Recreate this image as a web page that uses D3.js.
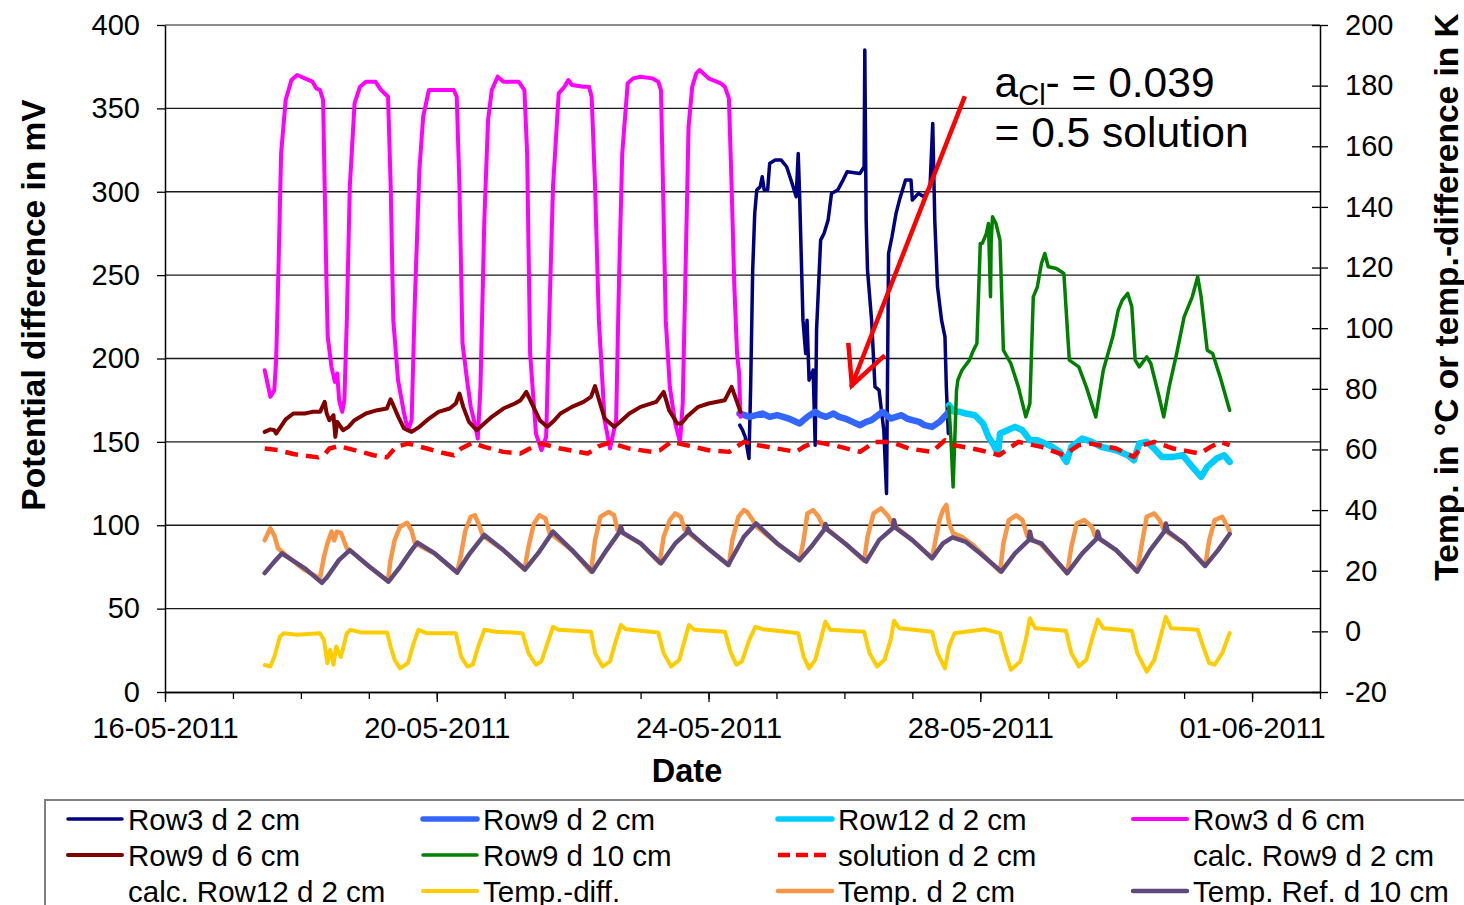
<!DOCTYPE html>
<html>
<head>
<meta charset="utf-8">
<script src="https://cdn.jsdelivr.net/npm/d3@7"></script>
<style>
  html, body { margin: 0; padding: 0; background: #fff; overflow: hidden; }
  svg { display: block; font-family: "Liberation Sans", Arial, sans-serif; }
</style>
</head>
<body>
<svg id="chart" width="1464" height="905"></svg>
<script>
// Time is stored as day offsets from 16-05-2011 00:00
const startDate = new Date(2011, 4, 16);
const endDate = new Date(2011, 5, 2);

// Potential differences in mV (left axis): [day offset, value]
const row3d2 = [[8.46,160],[8.50,157],[8.54,153],[8.595,140],[8.62,183],[8.65,253],[8.68,287],[8.71,301],[8.76,303],[8.79,309],[8.82,301],[8.87,301],[8.90,317],[8.98,319],[9.07,319],[9.15,315],[9.23,305],[9.29,297],[9.32,323],[9.34,299],[9.39,223],[9.43,203],[9.45,223],[9.48,187],[9.54,193],[9.57,148],[9.59,217],[9.65,271],[9.70,275],[9.76,283],[9.81,299],[9.90,301],[9.98,307],[10.04,312],[10.23,311],[10.29,315],[10.30,385],[10.32,283],[10.34,253],[10.40,223],[10.45,183],[10.51,181],[10.55,167],[10.58,157],[10.62,119],[10.65,263],[10.70,273],[10.76,287],[10.81,295],[10.90,307],[10.98,307],[11.00,295],[11.09,299],[11.17,297],[11.26,303],[11.30,341],[11.33,283],[11.37,243],[11.43,223],[11.48,213],[11.50,183],[11.53,155]];

const row9d2 = [[8.456,167],[8.53,166],[8.60,165],[8.70,166],[8.79,167],[8.90,165],[9.01,166],[9.10,165],[9.18,164],[9.34,161],[9.455,165],[9.57,168],[9.65,166],[9.73,165],[9.84,167],[9.92,165],[10.01,164],[10.12,162],[10.23,160],[10.32,162],[10.40,163],[10.56,168],[10.68,164],[10.76,165],[10.84,166],[10.92,164],[11.00,163],[11.10,162],[11.18,160],[11.29,159],[11.40,162],[11.54,168]];

const row12d2 = [[11.54,172],[11.62,168],[11.70,168],[11.79,167],[11.92,166],[12.04,161],[12.12,153],[12.20,148],[12.26,143],[12.29,155],[12.40,157],[12.51,159],[12.62,157],[12.73,151],[12.84,151],[12.95,149],[13.06,147],[13.17,144],[13.27,138],[13.34,147],[13.50,152],[13.64,150],[13.78,147],[14.00,145],[14.17,142],[14.26,139],[14.34,149],[14.45,150],[14.56,146],[14.67,141],[14.84,141],[14.98,142],[15.12,135],[15.25,129],[15.34,135],[15.48,140],[15.59,142],[15.67,138]];

const row3d6 = [[1.467,193],[1.551,177],[1.608,181],[1.636,199],[1.664,243],[1.709,323],[1.776,355],[1.861,367],[1.945,370],[2.057,368],[2.17,366],[2.226,362],[2.282,361],[2.327,355],[2.35,303],[2.378,243],[2.395,213],[2.45,195],[2.5,186],[2.535,191],[2.563,175],[2.608,168],[2.64,175],[2.676,223],[2.72,303],[2.79,353],[2.87,363],[2.957,366],[3.097,366],[3.18,361],[3.283,357],[3.322,303],[3.36,223],[3.43,187],[3.519,167],[3.575,157],[3.63,163],[3.676,233],[3.744,313],[3.8,345],[3.884,361],[4.08,361],[4.25,361],[4.294,357],[4.334,303],[4.379,209],[4.446,187],[4.5,171],[4.559,161],[4.604,152],[4.643,183],[4.7,283],[4.755,343],[4.81,361],[4.896,369],[4.98,366],[5.205,366],[5.29,361],[5.33,323],[5.374,203],[5.46,155],[5.54,145],[5.61,153],[5.655,223],[5.711,303],[5.795,359],[5.88,363],[5.936,367],[5.99,364],[6.16,363],[6.24,363],[6.28,357],[6.33,303],[6.386,223],[6.47,163],[6.55,146],[6.64,163],[6.68,243],[6.73,323],[6.81,365],[6.89,368],[7.0,369],[7.17,368],[7.26,366],[7.30,361],[7.33,303],[7.37,223],[7.43,183],[7.51,161],[7.58,150],[7.62,173],[7.667,263],[7.706,339],[7.76,363],[7.82,371],[7.87,373],[8.0,368],[8.18,365],[8.24,363],[8.30,356],[8.34,303],[8.38,243],[8.42,203],[8.45,191],[8.47,165]];

const row9d6 = [[1.467,156],[1.551,157.5],[1.608,157],[1.636,155],[1.776,163.5],[1.889,167],[2.057,167],[2.17,168],[2.282,168],[2.35,174],[2.38,167],[2.42,163],[2.48,166],[2.507,153],[2.535,162],[2.62,157],[2.7,159],[2.79,163],[2.957,167],[3.125,169],[3.266,170],[3.32,175.5],[3.36,172],[3.434,165],[3.519,158],[3.63,156],[3.744,159],[3.856,163],[4.025,168],[4.19,170],[4.28,173],[4.334,179],[4.39,171],[4.474,162],[4.587,157],[4.67,160],[4.81,165],[4.98,170],[5.15,173],[5.234,175],[5.318,180],[5.4,173],[5.515,163],[5.627,159],[5.71,162],[5.82,167],[5.99,171],[6.16,174],[6.27,177],[6.33,183.5],[6.39,175],[6.47,164],[6.61,159],[6.67,161],[6.835,167],[7.0,171],[7.23,174],[7.34,180],[7.42,169],[7.54,161],[7.6,161],[7.68,165],[7.85,171],[8.0,173],[8.24,175],[8.34,183],[8.41,175],[8.47,168]];

const row9d10 = [[11.54,171],[11.57,150],[11.60,123],[11.65,181],[11.67,187],[11.73,193],[11.84,199],[11.90,205],[11.95,209],[12.0,269],[12.03,269],[12.09,275],[12.12,281],[12.15,237],[12.16,270],[12.18,285],[12.23,281],[12.29,271],[12.34,205],[12.45,197],[12.56,183],[12.67,165],[12.73,173],[12.78,237],[12.84,243],[12.90,257],[12.95,263],[13.0,255],[13.12,254],[13.23,251],[13.31,199],[13.45,195],[13.56,183],[13.70,165],[13.81,193],[13.95,213],[14.03,229],[14.09,235],[14.17,239],[14.23,231],[14.28,199],[14.34,195],[14.45,201],[14.51,197],[14.62,179],[14.70,165],[14.78,183],[14.89,203],[15.0,225],[15.12,237],[15.20,249],[15.25,237],[15.34,205],[15.42,203],[15.53,189],[15.67,169]];

const solutionD2 = [[1.467,146],[1.67,145],[1.889,142.7],[2.254,140.7],[2.34,142],[2.42,146],[2.56,147.5],[2.84,144.5],[3.07,142],[3.266,140.7],[3.4,147],[3.575,149],[3.856,146],[4.08,143.5],[4.25,142],[4.36,146],[4.53,149.5],[4.7,147],[4.98,144],[5.23,143],[5.37,146],[5.54,149],[5.82,146],[6.22,143],[6.386,147.5],[6.55,149.5],[6.835,146],[7.17,144],[7.285,145],[7.45,150],[7.68,148],[8.0,145],[8.3,144],[8.52,150],[8.73,148],[9.29,144],[9.4,147],[9.57,150],[9.84,148],[10.23,144],[10.45,150],[10.68,150],[10.95,146],[11.29,144],[11.48,151],[11.62,148],[12.0,145],[12.28,142],[12.56,150],[12.9,147],[13.23,142],[13.45,148],[13.62,149],[14.0,146],[14.26,141],[14.39,148],[14.56,150],[14.84,146],[15.23,143],[15.39,147],[15.53,150],[15.67,148]];

// Temperatures in °C / K (right axis): [day offset, value]
const tempDiff = [[1.467,-11.1],[1.55,-11.6],[1.61,-8.4],[1.69,-1.8],[1.75,-0.6],[1.945,-1.1],[2.28,-0.6],[2.34,-2.8],[2.39,-10.5],[2.43,-6.1],[2.48,-11],[2.52,-5],[2.59,-8.4],[2.676,-0.6],[2.73,0.5],[2.9,-0.4],[3.27,-0.4],[3.32,-5],[3.38,-9.4],[3.46,-12.2],[3.575,-10.5],[3.66,-3.9],[3.73,0.5],[3.85,-0.6],[4.28,-0.6],[4.36,-8.4],[4.45,-11.6],[4.53,-11],[4.61,-5],[4.70,0.5],[4.87,-0.1],[5.26,-0.6],[5.35,-7.2],[5.46,-11],[5.54,-9.9],[5.63,-3.9],[5.71,1.5],[5.79,0.5],[6.27,-0.1],[6.33,-7.2],[6.44,-11.6],[6.55,-9.9],[6.64,-2.8],[6.71,2.1],[6.78,0.7],[7.26,-0.4],[7.34,-7.2],[7.45,-11.6],[7.57,-9.4],[7.65,-2.8],[7.71,2.1],[7.79,0.5],[8.24,-0.1],[8.33,-7.2],[8.41,-11],[8.49,-9.9],[8.6,-2.8],[8.69,1.5],[8.79,0.7],[9.01,0.2],[9.32,-0.6],[9.4,-8.4],[9.48,-12.2],[9.57,-9.4],[9.65,-2.8],[9.72,3.2],[9.79,0.5],[10.29,-0.1],[10.37,-7.2],[10.48,-11.6],[10.59,-9.4],[10.68,-2.8],[10.73,3.5],[10.81,1],[11.29,-0.1],[11.37,-7.2],[11.48,-12.2],[11.54,-5],[11.62,-0.6],[11.79,-0.1],[12.06,0.7],[12.29,-0.6],[12.37,-7.2],[12.45,-12.7],[12.59,-9.9],[12.67,-2.8],[12.73,4.3],[12.81,1],[13.26,0.2],[13.34,-7.2],[13.45,-11.6],[13.56,-9.4],[13.64,-2.8],[13.73,3.9],[13.81,1],[14.23,0.2],[14.31,-7.2],[14.45,-13.3],[14.56,-9.4],[14.64,-2.8],[14.73,4.8],[14.81,1],[15.2,0.5],[15.28,-5],[15.37,-10.5],[15.45,-11],[15.56,-7.2],[15.64,-2.3],[15.67,-0.6]];

const tempD2 = [[1.467,30.1],[1.55,34],[1.61,31.6],[1.664,27.4],[1.776,25.2],[2.057,20.2],[2.28,17.5],[2.34,24.6],[2.39,29],[2.45,32.9],[2.49,30],[2.53,32.9],[2.59,32.5],[2.676,27.4],[2.72,26.8],[3.01,21.3],[3.28,16.6],[3.32,23.5],[3.38,30.1],[3.46,34.5],[3.564,35.8],[3.63,33.2],[3.68,29],[3.97,25.7],[4.3,19.4],[4.36,25.7],[4.42,33.2],[4.5,37.8],[4.56,38.3],[4.61,35.8],[4.68,31.5],[4.98,26.8],[5.29,20.4],[5.35,27.9],[5.43,35.6],[5.51,38.3],[5.6,37.2],[5.66,32.5],[5.99,26.8],[6.27,19.7],[6.33,30.1],[6.41,37.8],[6.53,39.4],[6.61,38.3],[6.66,33.5],[7.0,29],[7.28,22.6],[7.34,31.2],[7.43,36.7],[7.51,38.9],[7.59,37.8],[7.65,33.5],[8.02,26.8],[8.3,21.9],[8.35,30.1],[8.44,37.8],[8.52,40],[8.57,39.4],[8.65,36.7],[8.71,34.5],[9.01,29],[9.34,23.5],[9.4,30.1],[9.455,38.9],[9.54,40],[9.62,37.8],[9.68,35],[10.01,29],[10.29,23.3],[10.34,31.2],[10.43,38.9],[10.54,40.6],[10.65,37.8],[10.70,35.5],[11.0,30.1],[11.29,24.3],[11.34,30.1],[11.4,36.7],[11.45,40],[11.5,41.7],[11.54,35.6],[11.6,32.3],[11.73,31.2],[11.9,28.4],[12.12,23.5],[12.29,19.7],[12.34,29],[12.42,36.7],[12.53,38.3],[12.62,36.7],[12.69,31.5],[12.9,28.5],[13.28,19.2],[13.34,27.9],[13.42,35.6],[13.53,36.7],[13.64,34.5],[13.69,31.5],[14.0,26.8],[14.31,19.7],[14.37,27.9],[14.45,37.8],[14.56,38.9],[14.64,36.7],[14.7,33.5],[15.0,29],[15.31,21.6],[15.37,30.1],[15.45,36.7],[15.56,37.8],[15.64,34.5],[15.67,32.9]];

const tempRefD10 = [[1.467,19.2],[1.61,23],[1.72,25.7],[2.057,20.8],[2.31,16],[2.39,18],[2.56,23.5],[2.72,26.8],[3.01,21.3],[3.29,16.4],[3.46,21.3],[3.63,26.8],[3.716,29.3],[3.97,25.7],[4.3,19.4],[4.47,25.2],[4.7,31.8],[4.98,26.8],[5.3,20.4],[5.49,25.7],[5.71,32.9],[5.99,26.8],[6.29,19.7],[6.5,26.8],[6.68,32.5],[6.71,34.5],[6.74,32.5],[7.0,29],[7.3,22.4],[7.51,29],[7.68,32.5],[7.7,34],[7.73,32.5],[8.02,26.8],[8.29,21.9],[8.52,31.2],[8.70,35.6],[9.01,29],[9.34,23.5],[9.51,27.9],[9.70,33.5],[9.72,35.4],[9.75,33.5],[10.01,29],[10.32,23],[10.51,30.1],[10.71,34],[10.73,36.7],[10.76,34],[11.0,30.1],[11.29,24.1],[11.45,29],[11.59,31],[11.79,29.5],[12.0,25.7],[12.31,19.7],[12.51,25.7],[12.71,30],[12.73,32.9],[12.76,30],[12.9,29],[13.28,19.2],[13.5,25.7],[13.71,30.5],[13.73,32.9],[13.76,30.5],[14.0,26.8],[14.31,19.7],[14.5,26.8],[14.71,33],[14.73,35.6],[14.76,33],[15.0,29],[15.31,21.6],[15.5,26.8],[15.67,32.1]];

// Axis ticks
const leftTicks = [0, 50, 100, 150, 200, 250, 300, 350, 400];
const rightTicks = [-20, 0, 20, 40, 60, 80, 100, 120, 140, 160, 180, 200];

// Arrow and note (day offset, mV)
const arrowTail = [11.76, 356];
const arrowHead = [10.11, 184];
const arrowWingA = [10.06, 208];
const arrowWingB = [10.57, 201];
const noteAnchor = [12.21, 357];

const toDate = d => new Date(startDate.getTime() + d * 86400000);

const svg = d3.select("#chart");
const plotLeft = 165, plotRight = 1320, plotTop = 25, plotBottom = 692;

const x = d3.scaleTime().domain([startDate, endDate]).range([plotLeft, plotRight]);
const yL = d3.scaleLinear().domain([0, 400]).range([plotBottom, plotTop]);
const yR = d3.scaleLinear().domain([-20, 200]).range([plotBottom, plotTop]);

// Horizontal gridlines
svg.append("g").selectAll("line").data(leftTicks.slice(1)).join("line")
  .attr("x1", plotLeft).attr("x2", plotRight)
  .attr("y1", d => yL(d)).attr("y2", d => yL(d))
  .attr("stroke", d => d === 400 ? "#8c8c8c" : "#1a1a1a")
  .attr("stroke-width", d => d === 400 ? 2 : 1.3);

// Left axis
svg.append("g").attr("transform", `translate(${plotLeft},0)`)
  .call(d3.axisLeft(yL).tickValues(leftTicks).tickSizeInner(8).tickSizeOuter(0).tickPadding(17));
// Right axis with crossing ticks
const axR = svg.append("g").attr("transform", `translate(${plotRight},0)`)
  .call(d3.axisRight(yR).tickValues(rightTicks).tickSizeInner(8).tickSizeOuter(0).tickPadding(17)
    .tickFormat(d => String(d)));
axR.selectAll(".tick line").attr("x1", -8).attr("x2", 8);

// Bottom axis: daily minor ticks and 4-day labelled ticks
const dayTicks = d3.timeDay.range(startDate, d3.timeDay.offset(endDate, 1));
svg.append("g").attr("transform", `translate(0,${plotBottom})`)
  .call(d3.axisBottom(x).tickValues(dayTicks).tickSizeInner(7).tickSizeOuter(0).tickFormat(""));
const majorTicks = dayTicks.filter((d, i) => i % 4 === 0);
svg.append("g").attr("transform", `translate(0,${plotBottom})`)
  .call(d3.axisBottom(x).tickValues(majorTicks).tickSizeInner(10).tickSizeOuter(0)
    .tickPadding(15).tickFormat(d3.timeFormat("%d-%m-%Y")));

svg.selectAll(".tick text").attr("font-size", 29).attr("fill", "#000")
  .attr("font-family", "Liberation Sans, Arial, sans-serif");
svg.selectAll(".tick line").attr("stroke", "#000").attr("stroke-width", 1.3);
svg.selectAll(".domain").attr("stroke", "#000").attr("stroke-width", 1.5);

// Series
const lineL = d3.line().x(d => x(toDate(d[0]))).y(d => yL(d[1]));
const lineR = d3.line().x(d => x(toDate(d[0]))).y(d => yR(d[1]));

const series = [
  { name: "Row3 d 2 cm", data: row3d2, axis: "L", color: "#000080", width: 3.5 },
  { name: "Row9 d 2 cm", data: row9d2, axis: "L", color: "#3366ff", width: 6.5 },
  { name: "Row12 d 2 cm", data: row12d2, axis: "L", color: "#00ccff", width: 6.5 },
  { name: "Row3 d 6 cm", data: row3d6, axis: "L", color: "#ff00ff", width: 4 },
  { name: "Row9 d 6 cm", data: row9d6, axis: "L", color: "#800000", width: 4 },
  { name: "Row9 d 10 cm", data: row9d10, axis: "L", color: "#008000", width: 3.5 },
  { name: "solution d 2 cm", data: solutionD2, axis: "L", color: "#ff0000", width: 4.5, dash: "13,8" },
  { name: "calc. Row9 d 2 cm", data: [], axis: "L", color: "none", width: 0 },
  { name: "calc. Row12 d 2 cm", data: [], axis: "L", color: "none", width: 0 },
  { name: "Temp.-diff.", data: tempDiff, axis: "R", color: "#ffcc00", width: 4 },
  { name: "Temp. d 2 cm", data: tempD2, axis: "R", color: "#f79646", width: 4.5 },
  { name: "Temp. Ref. d 10 cm", data: tempRefD10, axis: "R", color: "#604a7b", width: 4.5 }
];

const gLines = svg.append("g");
series.forEach(s => {
  if (!s.data.length) return;
  gLines.append("path")
    .attr("d", (s.axis === "L" ? lineL : lineR)(s.data))
    .attr("fill", "none")
    .attr("stroke", s.color)
    .attr("stroke-width", s.width)
    .attr("stroke-linejoin", "round")
    .attr("stroke-linecap", s.dash ? "butt" : "round")
    .attr("stroke-dasharray", s.dash || null);
});

// Arrow pointing at the solution level
const px = p => [x(toDate(p[0])), yL(p[1])];
const arrow = svg.append("g").attr("stroke", "#ff0000").attr("stroke-width", 4.5)
  .attr("stroke-linecap", "square").attr("fill", "none");
arrow.append("line").attr("x1", px(arrowTail)[0]).attr("y1", px(arrowTail)[1])
  .attr("x2", px(arrowHead)[0]).attr("y2", px(arrowHead)[1]);
arrow.append("polyline").attr("points", [px(arrowWingA), px(arrowHead), px(arrowWingB)].map(p => p.join(",")).join(" "));

// Note text
const nx = px(noteAnchor)[0], ny = px(noteAnchor)[1];
const note1 = svg.append("text").attr("x", nx).attr("y", ny).attr("font-size", 42.5).attr("fill", "#000");
note1.append("tspan").text("a");
note1.append("tspan").attr("font-size", 29).attr("dy", 8).text("Cl");
note1.append("tspan").attr("dy", -8).text("- = 0.039");
svg.append("text").attr("x", nx).attr("y", ny + 50).attr("font-size", 42.5).attr("fill", "#000")
  .text("= 0.5 solution");

// Axis titles
svg.append("text").attr("transform", "translate(45,305) rotate(-90)")
  .attr("text-anchor", "middle").attr("font-size", 33.5).attr("font-weight", "bold")
  .text("Potential difference in mV");
svg.append("text").attr("transform", "translate(1458,297) rotate(-90)")
  .attr("text-anchor", "middle").attr("font-size", 33.5).attr("font-weight", "bold")
  .text("Temp. in °C or temp.-difference in K");
svg.append("text").attr("x", 687).attr("y", 782)
  .attr("text-anchor", "middle").attr("font-size", 32.5).attr("font-weight", "bold")
  .text("Date");

// Legend (four columns, rows continue below the visible edge)
const legend = svg.append("g");
legend.append("rect").attr("x", 45).attr("y", 800).attr("width", 1440).attr("height", 130)
  .attr("fill", "#fff").attr("stroke", "#808080").attr("stroke-width", 2);
series.forEach((s, i) => {
  const col = i % 4, row = Math.floor(i / 4);
  const lx = 68 + col * 355, ly = 819 + row * 36;
  if (s.data.length) {
    legend.append("line").attr("x1", lx).attr("x2", s.dash ? lx + 48 : lx + 54)
      .attr("y1", ly).attr("y2", ly)
      .attr("stroke", s.color).attr("stroke-width", Math.min(s.width, 5.5))
      .attr("stroke-dasharray", s.dash ? "12,6" : null)
      .attr("stroke-linecap", s.dash ? "butt" : "round");
  }
  legend.append("text").attr("x", lx + 60).attr("y", ly + 10.5)
    .attr("font-size", 29.5).attr("fill", "#000").text(s.name);
});
</script>
</body>
</html>
